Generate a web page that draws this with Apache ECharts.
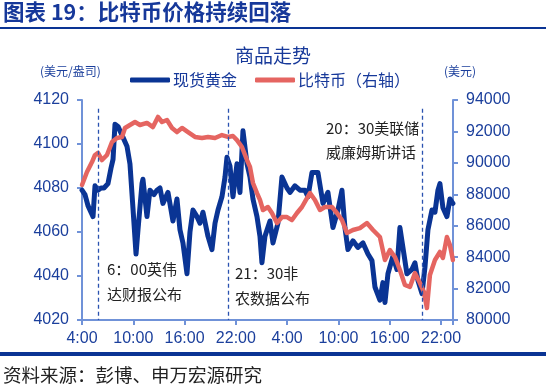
<!DOCTYPE html>
<html>
<head>
<meta charset="utf-8">
<script src="https://cdn.jsdelivr.net/npm/echarts@6/dist/echarts.min.js"></script>
<style>
  html, body { margin: 0; padding: 0; background: #fff; }
  #main { width: 546px; height: 391px; }
</style>
</head>
<body>
<div id="main"></div>
<script>
// hours since 4:00 on the first day
var goldHours = [0, 0.35, 0.7, 1.05, 1.29, 1.52, 1.87, 2.22, 2.57, 3.04, 3.39, 3.63, 3.86, 4.21, 4.56, 4.8, 5.26, 5.61, 5.96, 6.32,
  6.55, 7.02, 7.13, 7.6, 7.95, 8.42, 8.77, 9.12, 9.47, 10.06, 10.64, 11.11, 11.46, 11.81, 12.28, 12.63, 12.98, 13.45, 13.8, 14.15,
  14.74, 15.2, 15.56, 15.91, 16.37, 16.73, 16.96, 17.31, 17.66, 18.13, 18.48, 18.83, 19.3, 19.65, 20.0, 20.47, 20.82, 21.05, 21.4, 21.99,
  22.34, 22.92, 23.39, 23.98, 24.33, 24.91, 25.5, 26.08, 26.43, 26.9, 27.6, 28.19, 28.77, 29.36, 29.94, 30.41, 30.76, 31.11, 31.7, 32.28,
  32.87, 33.45, 33.92, 34.27, 34.85, 35.2, 35.44, 35.79, 36.37, 36.84, 37.19, 37.54, 38.01, 38.6, 38.95, 39.3, 39.77, 40.12, 40.47, 40.94,
  41.29, 41.64, 41.87, 42.22, 42.69, 43.04, 43.39];
var goldPrice = [4079, 4077, 4072, 4069, 4067, 4081, 4079, 4080, 4080, 4082, 4089, 4093, 4109, 4108, 4105, 4103, 4099, 4091, 4071, 4050,
  4061, 4082, 4084, 4067, 4079, 4077, 4079, 4080, 4073, 4078, 4065, 4075, 4061, 4055, 4041, 4060, 4070, 4067, 4064, 4069,
  4058, 4052, 4064, 4070, 4076, 4085, 4094, 4090, 4076, 4091, 4078, 4106, 4091, 4085, 4075, 4067, 4058, 4046, 4058, 4065,
  4055, 4064, 4085, 4080, 4078, 4081, 4079, 4079, 4076, 4087, 4087, 4073, 4078, 4062, 4070, 4079, 4062, 4052, 4056, 4053,
  4055, 4050, 4047, 4035, 4029, 4037, 4028, 4041, 4049, 4043, 4062, 4053, 4041, 4043, 4046, 4038, 4032, 4044, 4061, 4070,
  4069, 4079, 4082, 4071, 4067, 4075, 4073];

var btcHours = [0, 0.58, 1.17, 1.52, 1.87, 2.34, 2.92, 3.51, 4.09, 4.68, 5.03, 5.61, 6.2, 6.78, 7.6, 8.3, 8.89, 9.36, 9.94, 10.53,
  11.11, 11.7, 12.4, 13.22, 14.04, 14.74, 15.56, 16.37, 17.08, 17.66, 18.13, 18.71, 19.3, 19.65, 20.0, 20.47, 20.82, 21.17, 21.75, 22.22,
  22.81, 23.39, 23.98, 24.56, 25.15, 25.73, 26.32, 26.67, 27.25, 27.84, 28.42, 29.24, 29.82, 30.41, 30.99, 31.7, 32.51, 33.33, 34.04, 34.85,
  35.44, 36.02, 36.61, 37.19, 37.78, 38.36, 38.95, 39.53, 40.0, 40.35, 40.7, 41.29, 41.87, 42.22, 42.69, 43.04, 43.39];
var btcPrice = [88590, 89420, 90050, 90500, 90630, 90180, 90500, 91330, 91580, 91650, 92220, 92410, 92600, 92410, 92540, 92280, 92920, 92600, 92730, 92220,
  91960, 92220, 91960, 91650, 91580, 91650, 91580, 91770, 91650, 91710, 91450, 91010, 90180, 89740, 88720, 88080, 87640, 87000, 87190, 86810,
  86170, 86550, 86550, 86360, 86810, 87190, 87760, 88080, 87640, 87000, 87190, 87190, 86810, 86360, 85540, 85730, 85850, 86170, 85730, 85280,
  83820, 84450, 84010, 83180, 82230, 82100, 82990, 82350, 81780, 80760, 82860, 83820, 84330, 83950, 85280, 84770, 83820];

// event markers (hours since 4:00) and their notes
var eventHours = [1.9, 17.1, 39.8];
var eventNotes = [['6：00英伟', '达财报公布'], ['21：30非', '农数据公布'], ['20：30美联储', '威廉姆斯讲话']];

var goldData = goldHours.map(function (h, i) { return [h, goldPrice[i]]; });
var btcData = btcHours.map(function (h, i) { return [h, btcPrice[i]]; });

var cjk = '"Noto Sans CJK SC", sans-serif';
var num = '"Liberation Sans", Arial, sans-serif';
var axisBlue = '#7092d8';
var labelBlue = '#1b3f9c';

var myChart = echarts.init(document.getElementById('main'));
var option = {
  animation: false,
  title: {
    text: '商品走势',
    left: 'center',
    top: 41,
    textStyle: { color: '#17399a', fontSize: 19, fontWeight: 'normal', fontFamily: cjk }
  },
  legend: {
    top: 67,
    left: 125,
    itemWidth: 40,
    itemHeight: 5,
    itemGap: 18,
    icon: 'roundRect',
    textStyle: { color: '#17399a', fontSize: 16, fontFamily: cjk, padding: [0, 0, 0, -2] },
    data: ['现货黄金', '比特币（右轴）']
  },
  grid: { left: 82, right: 93, top: 100, bottom: 71 },
  xAxis: {
    type: 'value',
    min: 0,
    max: 43.4,
    interval: 6,
    splitLine: { show: false },
    axisLine: { lineStyle: { color: axisBlue, width: 2 } },
    axisTick: { show: true, length: 5, lineStyle: { color: axisBlue, width: 2 } },
    axisLabel: {
      color: labelBlue, fontSize: 16, fontFamily: num, margin: 11,
      formatter: function (v) {
        if (Math.abs(v % 6) > 0.01) return '';
        return ((v + 4) % 24) + ':00';
      }
    }
  },
  yAxis: [{
    type: 'value',
    min: 4020,
    max: 4120,
    interval: 20,
    splitLine: { show: false },
    axisLine: { show: true, lineStyle: { color: axisBlue, width: 2 } },
    axisTick: { show: true, length: 5, lineStyle: { color: axisBlue, width: 2 } },
    axisLabel: { color: labelBlue, fontSize: 16, fontFamily: num, margin: 13, formatter: function (v) { return String(v); } }
  }, {
    type: 'value',
    min: 80000,
    max: 94000,
    interval: 2000,
    splitLine: { show: false },
    axisLine: { show: true, lineStyle: { color: axisBlue, width: 2 } },
    axisTick: { show: true, length: 5, lineStyle: { color: axisBlue, width: 2 } },
    axisLabel: { color: labelBlue, fontSize: 16, fontFamily: num, margin: 13, formatter: function (v) { return String(v); } }
  }],
  series: [{
    name: '现货黄金',
    type: 'line',
    yAxisIndex: 0,
    showSymbol: false,
    symbol: 'none',
    data: goldData,
    itemStyle: { color: '#0a3494' },
    lineStyle: { color: '#0a3494', width: 5, join: 'round', cap: 'round' },
    markLine: {
      silent: true,
      symbol: 'none',
      label: { show: false },
      lineStyle: { color: '#2a52b0', type: [4, 3], width: 1.3 },
      data: eventHours.map(function (h) { return [{ coord: [h, 4116] }, { coord: [h, 4020] }]; })
    }
  }, {
    name: '比特币（右轴）',
    type: 'line',
    yAxisIndex: 1,
    showSymbol: false,
    symbol: 'none',
    data: btcData,
    itemStyle: { color: '#e56561' },
    lineStyle: { color: '#e56561', width: 4.5, join: 'round', cap: 'round' }
  }],
  graphic: [
    { type: 'text', left: 3, top: 1, style: { text: '图表 19：比特币价格持续回落', fill: '#16389a', font: 'bold 21.5px ' + cjk } },
    { type: 'rect', shape: { x: 0, y: 27, width: 546, height: 2 }, style: { fill: '#0a3494' } },
    { type: 'text', left: 40, top: 65, style: { text: '(美元/盎司)', fill: '#1b3f9c', font: '12px ' + cjk } },
    { type: 'text', left: 444, top: 65, style: { text: '(美元)', fill: '#1b3f9c', font: '12px ' + cjk } },
    { type: 'text', left: 107, top: 262, style: { text: eventNotes[0][0], fill: '#222', font: '15px ' + cjk } },
    { type: 'text', left: 107, top: 287, style: { text: eventNotes[0][1], fill: '#222', font: '15px ' + cjk } },
    { type: 'text', left: 235, top: 266, style: { text: eventNotes[1][0], fill: '#222', font: '15px ' + cjk } },
    { type: 'text', left: 235, top: 291, style: { text: eventNotes[1][1], fill: '#222', font: '15px ' + cjk } },
    { type: 'text', left: 326, top: 121, style: { text: eventNotes[2][0], fill: '#222', font: '15px ' + cjk } },
    { type: 'text', left: 326, top: 145, style: { text: eventNotes[2][1], fill: '#222', font: '15px ' + cjk } },
    { type: 'rect', shape: { x: 0, y: 352, width: 546, height: 4 }, style: { fill: '#0a3494' } },
    { type: 'text', left: 3, top: 366, style: { text: '资料来源：彭博、申万宏源研究', fill: '#222', font: '18.5px ' + cjk } }
  ]
};
myChart.setOption(option);
</script>
</body>
</html>
